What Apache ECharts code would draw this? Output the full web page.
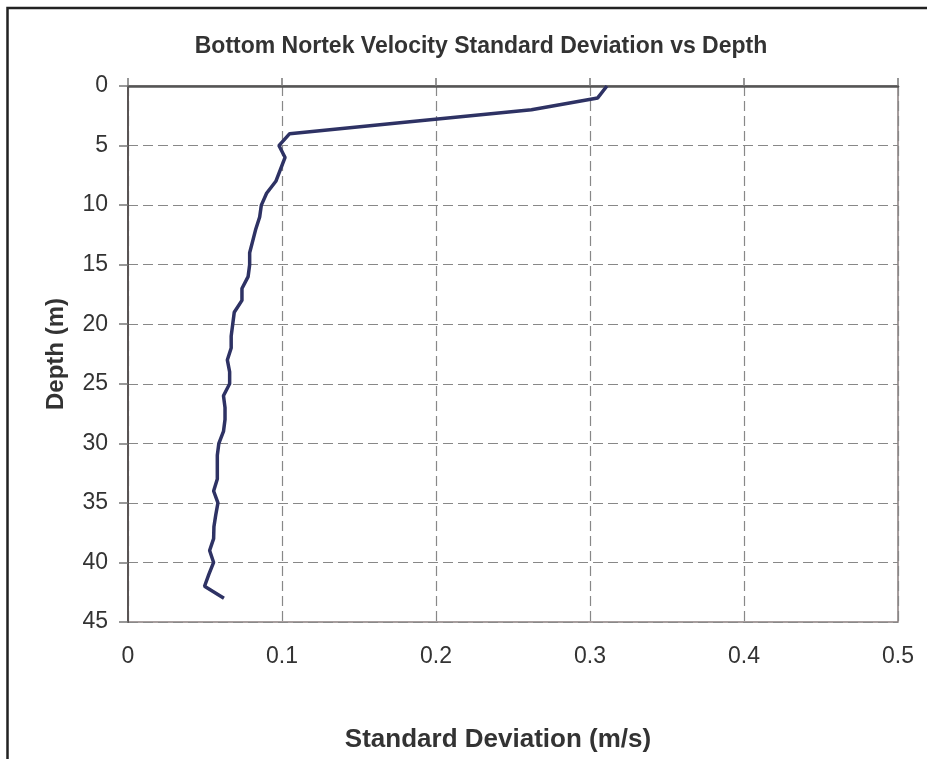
<!DOCTYPE html>
<html>
<head>
<meta charset="utf-8">
<script src="https://cdn.jsdelivr.net/npm/echarts@6/dist/echarts.min.js"></script>
<style>
  html, body { margin: 0; padding: 0; background: #fff; }
  #chart { width: 927px; height: 759px; }
</style>
</head>
<body>
<div id="chart"></div>
<script>
const depths = [0, 1, 2, 3, 4, 5, 6, 7, 8, 9, 10, 11, 12, 13, 14, 15, 16, 17, 18, 19, 20, 21,
  22, 23, 24, 25, 26, 27, 28, 29, 30, 31, 32, 33, 34, 35, 36, 37, 38, 39, 40, 41, 42, 43];
const stdDev = [0.311, 0.305, 0.262, 0.183, 0.105, 0.098, 0.102, 0.099, 0.096, 0.090, 0.0866,
  0.0855, 0.083, 0.081, 0.079, 0.079, 0.078, 0.074, 0.074, 0.069, 0.068, 0.067, 0.067, 0.0645,
  0.066, 0.066, 0.062, 0.063, 0.063, 0.062, 0.059, 0.058, 0.058, 0.058, 0.0556, 0.0584, 0.057,
  0.0558, 0.0556, 0.053, 0.0556, 0.0525, 0.0497, 0.0623];
const xTicks = [0, 0.1, 0.2, 0.3, 0.4, 0.5];
const yTicks = [0, 5, 10, 15, 20, 25, 30, 35, 40, 45];

const font = "'Liberation Sans', Arial, sans-serif";

const chart = echarts.init(document.getElementById('chart'), null, { renderer: 'canvas' });

const lineData = depths.map((d, i) => [stdDev[i], d]);

chart.setOption({
  backgroundColor: '#fff',
  animation: false,
  title: {
    text: 'Bottom Nortek Velocity Standard Deviation vs Depth',
    left: 476,
    top: 30,
    textAlign: 'center',
    textStyle: { fontFamily: font, fontWeight: 'bold', fontSize: 23, color: '#333' }
  },
  graphic: [{
    type: 'rect',
    shape: { x: 7.5, y: 8, width: 940, height: 780 },
    style: { fill: 'none', stroke: '#222', lineWidth: 2.5 },
    silent: true
  }],
  grid: {
    left: 128, right: 29, top: 86, bottom: 137,
    show: true, borderColor: '#8a7f7f', borderWidth: 1.5, backgroundColor: 'transparent'
  },
  xAxis: [{
    type: 'value', position: 'bottom',
    min: xTicks[0], max: xTicks[xTicks.length - 1], interval: 0.1,
    name: 'Standard Deviation (m/s)', nameLocation: 'middle', nameGap: 105,
    nameTextStyle: { fontFamily: font, fontWeight: 'bold', fontSize: 26, color: '#333', padding: [0, 30, 0, 0] },
    axisLine: { show: false },
    axisTick: { show: false },
    axisLabel: { fontFamily: font, fontSize: 23, color: '#333', margin: 23 },
    splitLine: { show: true, lineStyle: { color: '#888', width: 1.2, type: [10, 5] } }
  }, {
    type: 'value', position: 'top',
    min: xTicks[0], max: xTicks[xTicks.length - 1], interval: 0.1,
    axisLine: { show: true, onZero: false, lineStyle: { color: '#555', width: 2.5 } },
    axisTick: { show: true, length: 8, lineStyle: { color: '#777', width: 1.5 } },
    axisLabel: { show: false },
    splitLine: { show: false }
  }],
  yAxis: [{
    type: 'value', inverse: true,
    min: yTicks[0], max: yTicks[yTicks.length - 1], interval: 5,
    name: 'Depth (m)', nameLocation: 'middle', nameGap: 60, nameRotate: 90,
    nameTextStyle: { fontFamily: font, fontWeight: 'bold', fontSize: 24, color: '#333' },
    axisLine: { show: true, onZero: false, lineStyle: { color: '#5a5555', width: 2 } },
    axisTick: { show: true, length: 9, lineStyle: { color: '#777', width: 1.5 } },
    axisLabel: { fontFamily: font, fontSize: 23, color: '#333', margin: 20 },
    splitLine: { show: true, lineStyle: { color: '#888', width: 1.2, type: [10, 5] } }
  }, {
    type: 'value', inverse: true,
    min: yTicks[0], max: yTicks[yTicks.length - 1], interval: 5,
    axisLine: { show: false },
    axisTick: { show: true, inside: true, length: 8, lineStyle: { color: '#777', width: 1.5 } },
    axisLabel: { show: false },
    splitLine: { show: false }
  }],
  series: [{
    type: 'line',
    xAxisIndex: 0, yAxisIndex: 0,
    data: lineData,
    showSymbol: false,
    symbol: 'none',
    lineStyle: { color: '#2e3264', width: 3.5 },
    z: 5
  }]
});
</script>
</body>
</html>
